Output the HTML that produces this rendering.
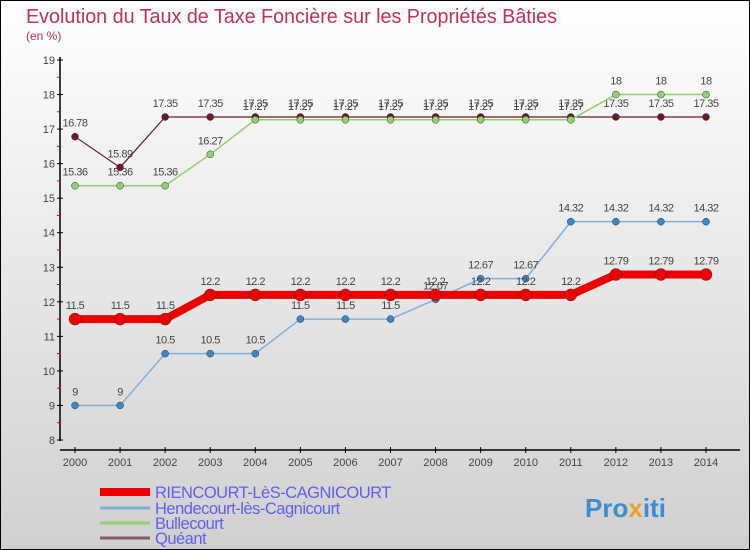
<!DOCTYPE html>
<html><head><meta charset="utf-8"><style>
body{margin:0;width:750px;height:550px;overflow:hidden;font-family:"Liberation Sans",sans-serif}
svg{display:block}
</style></head><body>
<svg width="750" height="550" xmlns="http://www.w3.org/2000/svg">
<defs><linearGradient id="bg" x1="0" y1="0" x2="0" y2="1"><stop offset="0" stop-color="#ffffff"/><stop offset="1" stop-color="#d0d0d0"/></linearGradient></defs>
<rect x="0.5" y="0.5" width="749" height="549" fill="url(#bg)" stroke="#000"/>
<text x="26" y="23" font-size="20" textLength="531" lengthAdjust="spacingAndGlyphs" fill="#c0305a">Evolution du Taux de Taxe Foncière sur les Propriétés Bâties</text>
<text x="26" y="40" font-size="12" fill="#c0305a">(en %)</text>
<g id="axes"></g>
<g id="series"></g>
<g id="legend"></g>
<text x="585" y="517" font-size="26" font-weight="bold" fill="#3a8fd0">Pro<tspan fill="#f0a020">x</tspan>iti</text>
</svg>
<script>
const years=[2000,2001,2002,2003,2004,2005,2006,2007,2008,2009,2010,2011,2012,2013,2014];
const yTicks=[8,9,10,11,12,13,14,15,16,17,18,19];
const riencourt=[11.5,11.5,11.5,12.2,12.2,12.2,12.2,12.2,12.2,12.2,12.2,12.2,12.79,12.79,12.79];
const hendecourt=[9,9,10.5,10.5,10.5,11.5,11.5,11.5,12.07,12.67,12.67,14.32,14.32,14.32,14.32];
const bullecourt=[15.36,15.36,15.36,16.27,17.27,17.27,17.27,17.27,17.27,17.27,17.27,17.27,18,18,18];
const queant=[16.78,15.89,17.35,17.35,17.35,17.35,17.35,17.35,17.35,17.35,17.35,17.35,17.35,17.35,17.35];
const names=["RIENCOURT-LèS-CAGNICOURT","Hendecourt-lès-Cagnicourt","Bullecourt","Quéant"];
const NS="http://www.w3.org/2000/svg";
const xS=i=>75+i*(706-75)/(years.length-1);
const yS=v=>440-(v-8)*(380/11);
function mk(t,a,p,txt){const e=document.createElementNS(NS,t);for(const k in a)e.setAttribute(k,a[k]);if(txt!==undefined)e.textContent=txt;p.appendChild(e);return e;}
const ax=document.getElementById('axes');
let l=mk('line',{x1:60,y1:57,x2:60,y2:441,stroke:'#000','stroke-width':1.5},ax);


l=mk('line',{x1:60,y1:450,x2:740,y2:450,stroke:'#000','stroke-width':1.5},ax);


yTicks.forEach(v=>{const y=yS(v);
 mk('line',{x1:57,y1:y,x2:63,y2:y,stroke:'#000'},ax);
 if(v<19)mk('line',{x1:57,y1:y-17.3,x2:61,y2:y-17.3,stroke:'#e00'},ax);
 const t=mk('text',{x:55,y:y+4,'font-size':11,fill:'#444','text-anchor':'end'},ax,String(v));
 
 
});
years.forEach((yr,i)=>{const x=xS(i);
 mk('line',{x1:x,y1:447,x2:x,y2:453,stroke:'#000'},ax);
 const t=mk('text',{x:x,y:466,'font-size':11,fill:'#444','text-anchor':'middle'},ax,String(yr));
 
 
});
const sg=document.getElementById('series');
const specs=[
 {d:queant,c:'#6b1a22',w:1.2,r:3.5,name:'queant-line'},
 {d:bullecourt,c:'#90d070',w:1.5,r:3.5,name:'bullecourt-line'},
 {d:hendecourt,c:'#80b0d8',w:1.5,r:3.5,fc:'#3a88c8',name:'hendecourt-line'},
 {d:riencourt,c:'#ee0000',w:8,r:6,name:'riencourt-line'}];
specs.forEach(s=>{
 const p=mk('polyline',{points:s.d.map((v,i)=>xS(i)+','+yS(v)).join(' '),fill:'none',stroke:s.c,'stroke-width':s.w},sg);
 
 
 s.d.forEach((v,i)=>{
  const c=mk('circle',{cx:xS(i),cy:yS(v),r:s.r,fill:s.fc||s.c,stroke:'#333','stroke-width':0.5},sg);
  
  
  const t=mk('text',{x:xS(i),y:yS(v)-10,'font-size':11,fill:'#444','text-anchor':'middle','letter-spacing':'-0.5'},sg,String(v));
  
  
 });
});
const lg=document.getElementById('legend');
const lc=['#ee0000','#80b0d8','#90d070','#8a5a5a'],lw=[8,3,3,3],ly=[492,508,523,538];
names.forEach((n,i)=>{
 const ln=mk('line',{x1:100,y1:ly[i],x2:150,y2:ly[i],stroke:lc[i],'stroke-width':lw[i]},lg);
 
 
 const t=mk('text',{x:155,y:ly[i]+6,'font-size':16.5,fill:'#6060f0','letter-spacing':'-0.5'},lg,n);
 
 
});
</script>
</body></html>
